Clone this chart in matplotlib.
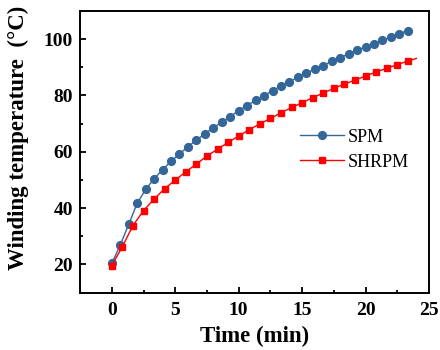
import matplotlib
matplotlib.use("Agg")
import matplotlib.pyplot as plt
from matplotlib.ticker import MultipleLocator

# data
spm_time = [i * 2 / 3 for i in range(36)]
spm_temp = [20.35, 26.9, 34.2, 41.7, 46.6, 50.4, 53.6, 56.6, 59.2, 61.8,
            64.1, 66.4, 68.5, 70.5, 72.5, 74.6, 76.4, 78.2, 79.9, 81.7,
            83.3, 84.9, 86.4, 87.9, 89.3, 90.6, 92.1, 93.4, 94.7, 96.0,
            97.2, 98.3, 99.5, 100.7, 101.9, 103.0]

shrpm_time = [i * 5 / 6 for i in range(29)] + [24.0]
shrpm_temp = [19.6, 26.3, 33.8, 39.1, 43.2, 46.9, 49.9, 52.9, 55.6, 58.5,
              60.9, 63.3, 65.6, 67.8, 69.9, 71.8, 73.8, 75.7, 77.4, 79.2,
              80.8, 82.5, 84.0, 85.4, 86.9, 88.3, 89.6, 90.9, 92.2, 93.1]

plt.rcParams['font.family'] = ['Liberation Serif', 'DejaVu Serif']

fig = plt.figure(figsize=(4.4, 3.5), dpi=100)
ax = fig.add_axes([0.182, 0.164, 0.793, 0.805])

ax.plot(spm_time, spm_temp, color='#336699', lw=1.0, marker='o', ms=5.6,
        label='SPM')
ax.plot(shrpm_time, shrpm_temp, color='#ff0000', lw=1.0, marker='s', ms=5.0,
        markevery=list(range(29)), label='SHRPM')

ax.set_xlim(-2.5, 25)
ax.set_ylim(10, 110)
ax.xaxis.set_major_locator(MultipleLocator(5))
ax.xaxis.set_minor_locator(MultipleLocator(2.5))
ax.yaxis.set_major_locator(MultipleLocator(20))
ax.yaxis.set_minor_locator(MultipleLocator(10))
ax.tick_params(which='both', direction='in', width=1.3, top=False, right=False)
ax.tick_params(which='major', length=4.5, labelsize=14)
ax.tick_params(axis='x', which='major', pad=7)
ax.tick_params(axis='y', which='major', pad=5)
ax.tick_params(which='minor', length=2.5)
for lab in ax.get_xticklabels() + ax.get_yticklabels():
    lab.set_fontweight('bold')
for sp in ax.spines.values():
    sp.set_linewidth(1.4)

ax.set_xlabel('Time (min)', fontsize=16.5, fontweight='bold', labelpad=5)
ax.set_ylabel('Winding temperature  (\u00b0C)', fontsize=16.5,
              fontweight='bold')
ax.yaxis.set_label_coords(-0.145, 0.55)

ax.legend(loc='upper left', bbox_to_anchor=(0.585, 0.64), frameon=False,
          fontsize=13, handlelength=2.4, handletextpad=0.2,
          labelspacing=0.45)

fig.savefig('out.png', dpi=100)
